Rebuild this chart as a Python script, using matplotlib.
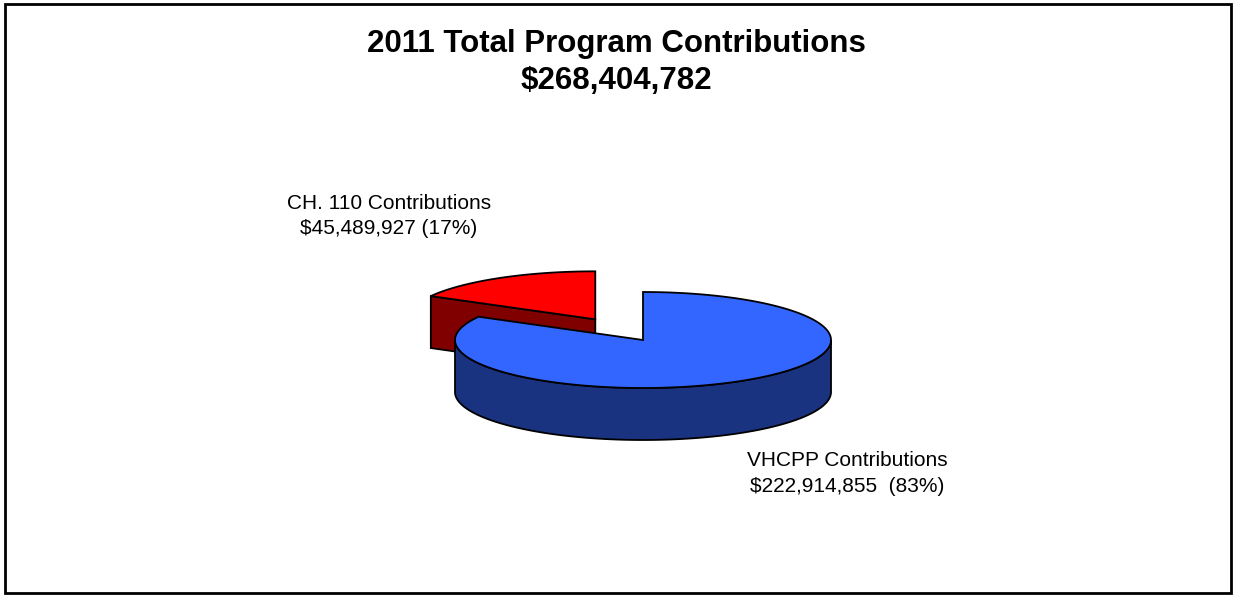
import numpy as np
import matplotlib
matplotlib.use("Agg")
import matplotlib.pyplot as plt
from matplotlib.patches import Polygon, Rectangle

plt.rcParams['font.family'] = ['Liberation Sans', 'DejaVu Sans']

# ---- data ----
title_lines = ["2011 Total Program Contributions", "$268,404,782"]
categories = ["VHCPP Contributions", "CH. 110 Contributions"]
values = [222914855, 45489927]
value_labels = ["$222,914,855  (83%)", "$45,489,927 (17%)"]
top_colors = ["#3366FF", "#FF0000"]
side_colors = ["#1A3380", "#800000"]
explode = [0.0, 0.5]

# ---- geometry (pixel-like data coordinates) ----
W, H = 1233, 595
fig = plt.figure(figsize=(W / 100, H / 100), dpi=100)
ax = fig.add_axes([0, 0, 1, 1])
ax.set_xlim(0, W)
ax.set_ylim(H, 0)
ax.axis('off')

cx, cy = 643, 340      # pie centre
a, b = 188, 48         # ellipse radii
depth = 52             # pie thickness
lw = 1.3

fracs = np.array(values, dtype=float) / sum(values)
# Excel style: first slice starts at 12 o'clock, clockwise
start = 90.0
slices = []
for i, f in enumerate(fracs):
    t1 = start
    t0 = start - 360 * f
    start = t0
    mid = np.radians((t0 + t1) / 2)
    ox = explode[i] * a * np.cos(mid)
    oy = -explode[i] * b * np.sin(mid)
    slices.append((t0, t1, cx + ox, cy + oy))

def pt(x0, y0, th_deg, dy=0.0):
    th = np.radians(th_deg)
    return (x0 + a * np.cos(th), y0 - b * np.sin(th) + dy)

def arc(x0, y0, t_from, t_to, dy=0.0, n=200):
    ts = np.linspace(t_from, t_to, n)
    return [pt(x0, y0, t, dy) for t in ts]

def draw_slice(i, z):
    t0, t1, x0, y0 = slices[i]
    top = top_colors[i]
    side = side_colors[i]
    # radial faces facing the viewer
    for t, sgn in ((t0, -1), (t1, 1)):
        th = np.radians(t)
        ny = sgn * np.cos(th)
        if ny < -1e-6:
            p = pt(x0, y0, t)
            poly = [(x0, y0), p, (p[0], p[1] + depth), (x0, y0 + depth)]
            ax.add_patch(Polygon(poly, closed=True, facecolor=side,
                                 edgecolor='black', lw=lw, zorder=z))
    # outer curved side: front part only
    segs = []
    for k in range(-2, 2):
        s0 = max(t0, 180 + 360 * k)
        s1 = min(t1, 360 + 360 * k)
        if s1 > s0:
            segs.append((s0, s1))
    for s0, s1 in segs:
        upper = arc(x0, y0, s0, s1)
        lower = arc(x0, y0, s1, s0, depth)
        ax.add_patch(Polygon(upper + lower, closed=True, facecolor=side,
                             edgecolor='black', lw=lw, zorder=z + 0.1))
    # top face
    poly = [(x0, y0)] + arc(x0, y0, t0, t1)
    ax.add_patch(Polygon(poly, closed=True, facecolor=top,
                         edgecolor='black', lw=lw, zorder=z + 0.2))

draw_slice(1, 2)
draw_slice(0, 3)

# ---- text ----
ax.text(616, 52, title_lines[0], ha='center', va='baseline', fontsize=22.5,
        fontweight='bold')
ax.text(616, 89, title_lines[1], ha='center', va='baseline', fontsize=22.5,
        fontweight='bold')

ax.text(389, 209, categories[1], ha='center', va='baseline', fontsize=15)
ax.text(389, 234, value_labels[1], ha='center', va='baseline', fontsize=15)
ax.text(847, 466, categories[0], ha='center', va='baseline', fontsize=15)
ax.text(847, 492, value_labels[0], ha='center', va='baseline', fontsize=15)

# chart border
ax.add_patch(Rectangle((5, 4), 1226, 589, fill=False, edgecolor='black',
                       lw=2, zorder=5))

fig.savefig("out.png", dpi=100)
